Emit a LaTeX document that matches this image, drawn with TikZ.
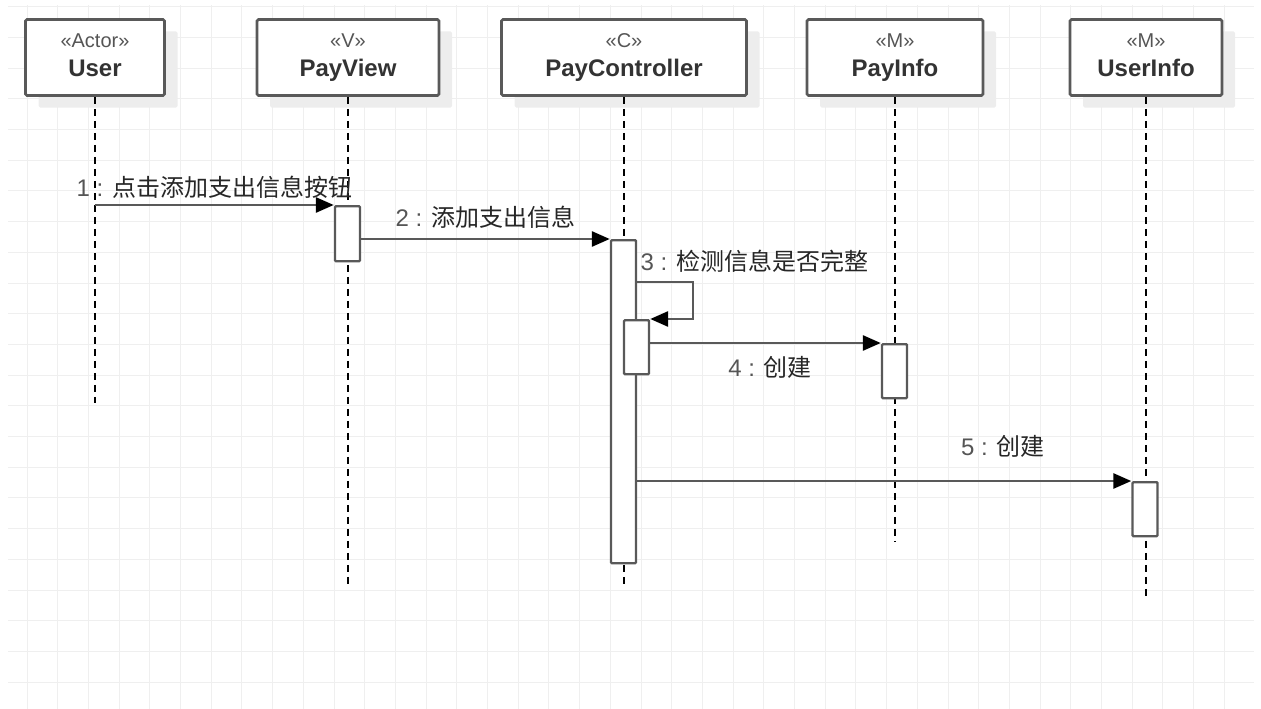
\documentclass[tikz,border=0pt]{standalone}
\usepackage{fontspec}
\setmainfont{Liberation Sans}
\newfontfamily\cjk{Noto Sans CJK SC}
\usetikzlibrary{arrows.meta}
\usetikzlibrary{shadows}
\usetikzlibrary{calc}

\definecolor{gridgray}{HTML}{EFEFEF}
\definecolor{linegray}{HTML}{595959}
\definecolor{textgray}{HTML}{333333}
\definecolor{stereogray}{HTML}{555555}
\definecolor{numgray}{HTML}{555555}

\newcommand{\stereo}[1]{{\fontsize{20}{29}\selectfont\color{stereogray}«#1»\vphantom{Ay}}}
\newcommand{\objname}[1]{{\bfseries #1\vphantom{Ay}}}
\newcommand{\msgtext}[2]{{\color{numgray}#1 :} {\cjk #2}}

\tikzset{
	gridline/.style={gridgray, line width=1pt},
	lifebox/.style={draw=linegray, line width=2.8pt, rounded corners=1.5pt, fill=white, inner sep=0pt,
		minimum height=76pt, align=center, text=textgray, font=\fontsize{24}{29}\selectfont,
		drop shadow={shadow xshift=13pt, shadow yshift=-12pt, fill=gray!14, opacity=1}},
	lifeline/.style={black, line width=1.6pt, dash pattern=on 7pt off 5pt},
	actbox/.style={draw=linegray, line width=2.4pt, rounded corners=1pt, fill=white, minimum width=25pt, inner sep=0pt},
	msg/.style={linegray, line width=2.8pt, -{Triangle[length=18pt, width=15pt, color=black]}},
	msglabel/.style={inner sep=0pt, text=black!85, font=\fontsize{24}{28}\selectfont},
}

\begin{document}
\begin{tikzpicture}[x=1pt, y=-1pt]
	\useasboundingbox (0,0) rectangle (1261,709);
	
	\foreach \i in {0,...,39}
		\draw[gridline] ({27+30.7*\i},5) -- ({27+30.7*\i},709);
	\foreach \j in {0,...,22}
		\draw[gridline] (8,{6.7+30.7*\j}) -- (1254,{6.7+30.7*\j});
	
	\node[lifebox, minimum width=139pt] (user) at (95,57.5) {\stereo{Actor}\\\objname{User}};
	\node[lifebox, minimum width=182pt] (payView) at (348,57.5) {\stereo{V}\\\objname{PayView}};
	\node[lifebox, minimum width=245pt] (payCtrl) at (624,57.5) {\stereo{C}\\\objname{PayController}};
	\node[lifebox, minimum width=176pt] (payInfo) at (895,57.5) {\stereo{M}\\\objname{PayInfo}};
	\node[lifebox, minimum width=152pt] (userInfo) at (1146,57.5) {\stereo{M}\\\objname{UserInfo}};
	
	\coordinate (userEnd) at (95,403);
	\coordinate (payViewEnd) at (348,588);
	\coordinate (payCtrlEnd) at (624,588);
	\coordinate (payInfoEnd) at (895,542);
	\coordinate (userInfoEnd) at (1146,600);
	
	\draw[lifeline] (user.south) -- (userEnd);
	\draw[lifeline] (payView.south) -- (payViewEnd);
	\draw[lifeline] (payCtrl.south) -- (payCtrlEnd);
	\draw[lifeline] (payInfo.south) -- (payInfoEnd);
	\draw[lifeline] (userInfo.south) -- (userInfoEnd);
	
	\node[actbox, minimum height=55pt, anchor=north] (payViewAct) at (347.5,205) {};
	\node[actbox, minimum height=323pt, anchor=north] (payCtrlAct) at (623.5,239) {};
	\node[actbox, minimum height=54pt, anchor=north] (payCtrlAct2) at (636.5,319) {};
	\node[actbox, minimum height=54pt, anchor=north] (payInfoAct) at (894.5,343) {};
	\node[actbox, minimum height=54pt, anchor=north] (userInfoAct) at (1145,481) {};
	
	\coordinate (selfTop) at (693,282);
	
	\draw[msg] (user |- payViewAct.north) -- node[msglabel, above=5pt] (lab1) {\msgtext{1}{点击添加支出信息按钮}} (payViewAct.north west);
	
	\draw[msg] (payViewAct.east |- payCtrlAct.north) -- node[msglabel, above=9pt] (lab2) {\msgtext{2}{添加支出信息}} (payCtrlAct.north west);
	
	\draw[msg] (payCtrlAct.east |- selfTop) -- node[msglabel, pos=0, anchor=south west, xshift=2pt, yshift=8pt] (lab3) {\msgtext{3}{检测信息是否完整}} (selfTop) |- (payCtrlAct2.north east);
	
	\draw[msg] (payCtrlAct2.east |- payInfoAct.north) -- node[msglabel, pos=0.52, below=12pt] (lab4) {\msgtext{4}{创建}} (payInfoAct.north west);
	
	\draw[msg] (payCtrlAct.east |- userInfoAct.north) -- node[msglabel, pos=0.74, above=22pt] (lab5) {\msgtext{5}{创建}} (userInfoAct.north west);
	
\end{tikzpicture}
\end{document}
